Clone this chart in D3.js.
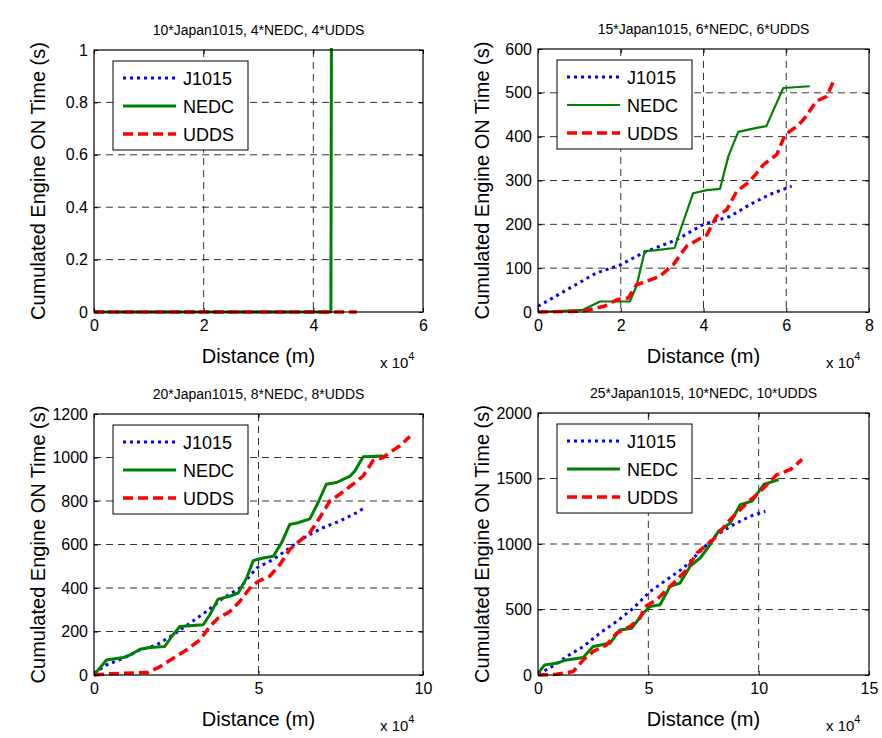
<!DOCTYPE html>
<meta charset="utf-8">
<style>
body { margin: 0; background: #fff; }
text { font-family: "Liberation Sans", Arial, Helvetica, sans-serif; fill: #000; }
</style>
<svg width="882" height="738"></svg>
<script src="https://cdn.jsdelivr.net/npm/d3@7"></script>
<script>

// distance in units of 1e4 m, cumulated engine ON time in s
var seriesNames = ["J1015", "NEDC", "UDDS"];
var titles = ["10*Japan1015, 4*NEDC, 4*UDDS", "15*Japan1015, 6*NEDC, 6*UDDS",
              "20*Japan1015, 8*NEDC, 8*UDDS", "25*Japan1015, 10*NEDC, 10*UDDS"];
var xTicks = [[0, 2, 4, 6], [0, 2, 4, 6, 8], [0, 5, 10], [0, 5, 10, 15]];
var yTicks = [[0, 0.2, 0.4, 0.6, 0.8, 1], [0, 100, 200, 300, 400, 500, 600],
              [0, 200, 400, 600, 800, 1000, 1200], [0, 500, 1000, 1500, 2000]];

var j1015_1 = [[0, 0], [4.1, 0]];
var nedc_1 = [[0, 0], [4.32, 0], [4.33, 1.02]];
var udds_1 = [[0, 0], [4.79, 0]];

var j1015_2 = [[0, 13], [0.28, 28], [0.85, 59], [1.41, 89], [2.0, 108], [2.54, 135], [3.35, 165],
  [4.0, 200], [4.64, 218], [5.12, 245], [5.6, 268], [6.13, 287]];
var nedc_2 = [[0, 0], [1.09, 5], [1.5, 24], [2.22, 24], [2.38, 59], [2.58, 139], [2.86, 141],
  [3.3, 146], [3.47, 195], [3.75, 271], [4.08, 278], [4.4, 281], [4.6, 355], [4.84, 411],
  [5.28, 420], [5.52, 424], [5.73, 469], [5.93, 511], [6.57, 515]];
var udds_2 = [[0, 0], [1.09, 2], [1.6, 13], [1.9, 28], [2.18, 32], [2.38, 62], [2.62, 70],
  [2.94, 81], [3.27, 108], [3.59, 150], [3.79, 161], [4.08, 176], [4.31, 218], [4.56, 233],
  [4.8, 275], [5.12, 298], [5.45, 336], [5.77, 359], [5.97, 404], [6.25, 423], [6.42, 439],
  [6.73, 481], [6.98, 492], [7.14, 526]];

var j1015_3 = [[0, 8], [0.38, 46], [0.89, 77], [1.4, 115], [1.9, 138], [2.41, 185], [2.91, 238],
  [3.42, 292], [3.93, 354], [4.43, 400], [4.94, 492], [5.45, 531], [5.95, 585], [6.46, 638],
  [6.96, 677], [7.47, 708], [7.98, 746], [8.18, 765]];
var nedc_3 = [[0, 0], [0.38, 69], [0.89, 80], [1.09, 92], [1.4, 118], [1.7, 126], [2.15, 131],
  [2.36, 177], [2.61, 223], [2.91, 226], [3.32, 231], [3.52, 277], [3.77, 349], [4.13, 362],
  [4.38, 377], [4.64, 446], [4.84, 526], [5.14, 538], [5.45, 546], [5.7, 608], [5.95, 692],
  [6.2, 700], [6.56, 718], [6.81, 792], [7.06, 877], [7.37, 885], [7.77, 913], [7.93, 938],
  [8.18, 1004], [8.79, 1007]];
var udds_3 = [[0, 0], [0.38, 5], [0.89, 8], [1.65, 12], [2.0, 38], [2.41, 77], [2.81, 115],
  [3.22, 161], [3.52, 223], [3.77, 261], [4.13, 292], [4.43, 338], [4.74, 400], [4.99, 431],
  [5.34, 454], [5.65, 508], [5.95, 577], [6.26, 618], [6.56, 654], [6.86, 723], [7.17, 800],
  [7.47, 831], [7.87, 877], [8.18, 915], [8.48, 985], [8.79, 1000], [8.99, 1023], [9.3, 1054],
  [9.6, 1097]];

var j1015_4 = [[0, 13], [0.53, 51], [1.29, 140], [2.05, 217], [2.8, 319], [3.56, 408],
  [4.32, 510], [5.08, 638], [5.83, 727], [6.59, 816], [7.35, 944], [8.1, 1071], [8.86, 1148],
  [9.62, 1212], [10.3, 1250]];
var nedc_4 = [[0, 13], [0.3, 77], [0.83, 89], [1.29, 115], [2.05, 133], [2.5, 217], [3.26, 242],
  [3.71, 344], [4.24, 357], [4.77, 472], [5.08, 523], [5.53, 536], [5.98, 676], [6.44, 702],
  [6.89, 829], [7.35, 893], [7.8, 995], [8.18, 1097], [8.71, 1161], [9.17, 1301], [9.7, 1327],
  [10.23, 1454], [10.9, 1492]];
var udds_4 = [[0, 0], [0.83, 5], [1.59, 26], [2.05, 115], [2.5, 179], [3.11, 230], [3.56, 319],
  [4.17, 370], [4.62, 434], [4.85, 523], [5.38, 574], [5.83, 651], [6.29, 727], [6.74, 804],
  [7.2, 931], [7.65, 995], [8.11, 1059], [8.56, 1161], [9.02, 1237], [9.47, 1314], [9.92, 1378],
  [10.38, 1454], [10.83, 1530], [11.44, 1569], [11.97, 1646]];

var panelData = [
  [j1015_1, nedc_1, udds_1],
  [j1015_2, nedc_2, udds_2],
  [j1015_3, nedc_3, udds_3],
  [j1015_4, nedc_4, udds_4]
];

// layout
var boxes = [
  {x0: 94, x1: 423, y0: 50, y1: 312},
  {x0: 538, x1: 869, y0: 49, y1: 312},
  {x0: 94, x1: 423, y0: 414, y1: 675},
  {x0: 538, x1: 869, y0: 413, y1: 675}
];
var styles = [
  {color: "#0000ff", dash: "3,4", width: 3},
  {color: "#008000", dash: null, width: 3},
  {color: "#ff0000", dash: "10,5", width: 3.5}
];

var svg = d3.select("svg");
var fmt = function(d) { return String(d); };

panelData.forEach(function(series, p) {
  var b = boxes[p];
  var xt = xTicks[p], yt = yTicks[p];
  var x = d3.scaleLinear().domain([xt[0], xt[xt.length - 1]]).range([b.x0, b.x1]);
  var y = d3.scaleLinear().domain([yt[0], yt[yt.length - 1]]).range([b.y1, b.y0]);
  var g = svg.append("g");

  g.append("rect").attr("x", b.x0).attr("y", b.y0)
    .attr("width", b.x1 - b.x0).attr("height", b.y1 - b.y0).attr("fill", "#fff");

  // grid
  g.selectAll(".gx").data(xt.slice(1, -1)).enter().append("line")
    .attr("x1", function(d) { return x(d); }).attr("x2", function(d) { return x(d); })
    .attr("y1", b.y0).attr("y2", b.y1)
    .attr("stroke", "#333").attr("stroke-width", 1).attr("stroke-dasharray", "7,5");
  g.selectAll(".gy").data(yt.slice(1, -1)).enter().append("line")
    .attr("y1", function(d) { return y(d); }).attr("y2", function(d) { return y(d); })
    .attr("x1", b.x0).attr("x2", b.x1)
    .attr("stroke", "#333").attr("stroke-width", 1).attr("stroke-dasharray", "7,5");

  // lines
  var clipId = "clip" + p;
  g.append("clipPath").attr("id", clipId).append("rect")
    .attr("x", b.x0).attr("y", b.y0 - 2).attr("width", b.x1 - b.x0).attr("height", b.y1 - b.y0 + 4);
  var line = d3.line().x(function(d) { return x(d[0]); }).y(function(d) { return y(d[1]); });
  series.forEach(function(s, i) {
    var st = styles[i];
    g.append("path").datum(s)
      .attr("clip-path", "url(#" + clipId + ")")
      .attr("fill", "none")
      .attr("stroke", st.color)
      .attr("stroke-width", p == 1 && i == 1 ? 2.2 : st.width)
      .attr("stroke-dasharray", st.dash)
      .attr("stroke-linejoin", "round")
      .attr("d", line);
  });

  // axes (ticks inward)
  var xa = g.append("g").attr("transform", "translate(0," + b.y1 + ")")
    .call(d3.axisBottom(x).tickValues(xt).tickFormat(fmt).tickSizeInner(-4).tickSizeOuter(0).tickPadding(8));
  var ya = g.append("g").attr("transform", "translate(" + b.x0 + ",0)")
    .call(d3.axisLeft(y).tickValues(yt).tickFormat(fmt).tickSizeInner(-4).tickSizeOuter(0).tickPadding(6));
  g.append("g").attr("transform", "translate(0," + b.y0 + ")")
    .call(d3.axisTop(x).tickValues(xt).tickSizeInner(-4).tickSizeOuter(0).tickFormat(""));
  g.append("g").attr("transform", "translate(" + b.x1 + ",0)")
    .call(d3.axisRight(y).tickValues(yt).tickSizeInner(-4).tickSizeOuter(0).tickFormat(""));
  g.selectAll(".domain").remove();
  g.selectAll(".tick line").attr("stroke", "#000");
  xa.selectAll("text").style("font-size", "16px");
  ya.selectAll("text").style("font-size", "16px");

  g.append("rect").attr("x", b.x0).attr("y", b.y0)
    .attr("width", b.x1 - b.x0).attr("height", b.y1 - b.y0)
    .attr("fill", "none").attr("stroke", "#000").attr("stroke-width", 1.2);

  // labels
  var cx = (b.x0 + b.x1) / 2;
  g.append("text").attr("x", cx).attr("y", b.y0 - 15).attr("text-anchor", "middle")
    .style("font-size", "14px").text(titles[p]);
  g.append("text").attr("x", cx).attr("y", b.y1 + 51).attr("text-anchor", "middle")
    .style("font-size", "20px").text("Distance (m)");
  var ex = g.append("text").attr("x", b.x1 - 43).attr("y", b.y1 + 56).style("font-size", "15px");
  ex.append("tspan").text("x 10");
  ex.append("tspan").attr("dy", -8).style("font-size", "11px").text("4");
  g.append("text")
    .attr("transform", "translate(" + (b.x0 - 49) + "," + ((b.y0 + b.y1) / 2) + ") rotate(-90)")
    .attr("text-anchor", "middle").style("font-size", "20px")
    .text("Cumulated Engine ON Time (s)");

  // legend
  var lg = g.append("g").attr("transform", "translate(" + (b.x0 + 19) + "," + (b.y0 + 11) + ")");
  lg.append("rect").attr("width", 135).attr("height", 89)
    .attr("fill", "#fff").attr("stroke", "#000").attr("stroke-width", 1);
  seriesNames.forEach(function(name, i) {
    var st = styles[i];
    var yy = 17 + i * 28;
    lg.append("line").attr("x1", 10).attr("x2", 63).attr("y1", yy).attr("y2", yy)
      .attr("stroke", st.color).attr("stroke-width", p == 1 && i == 1 ? 2.2 : st.width)
      .attr("stroke-dasharray", st.dash);
    lg.append("text").attr("x", 70).attr("y", yy + 7).style("font-size", "18px").text(name);
  });
});

</script>
